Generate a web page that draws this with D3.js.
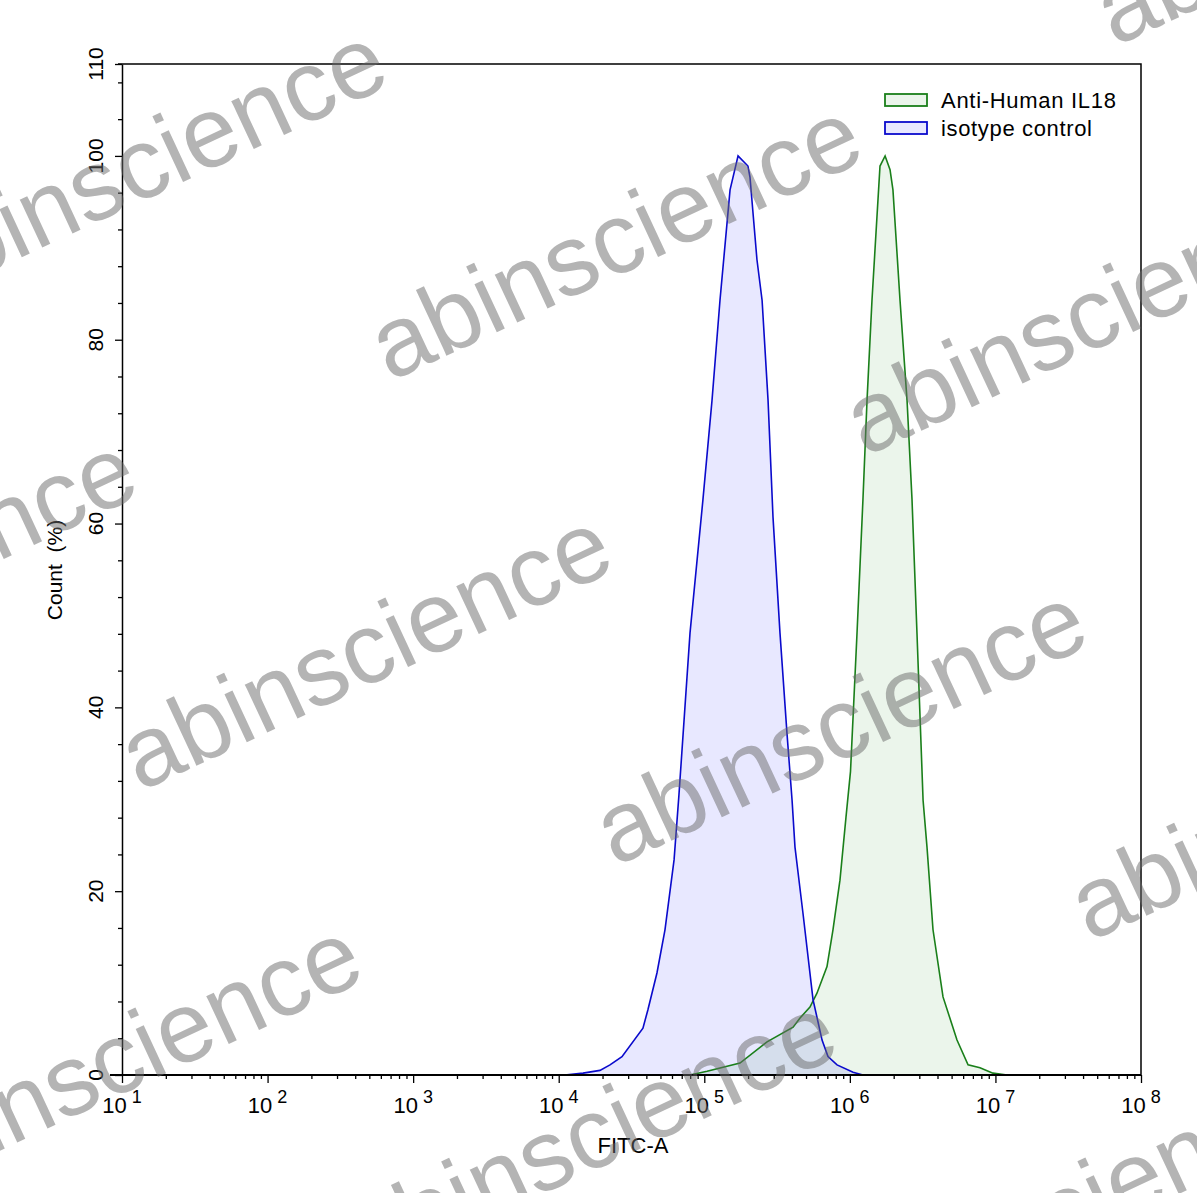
<!DOCTYPE html>
<html>
<head>
<meta charset="utf-8">
<script src="https://cdn.jsdelivr.net/npm/d3@7"></script>
<style>
  body { margin: 0; background: #fff; }
  svg text { font-family: "Liberation Sans", Arial, sans-serif; fill: #000; }
</style>
</head>
<body>
<script>
// size of the picture
var width = 1197;
var height = 1193;

// plot area edges
var plotLeft = 122, plotRight = 1141, plotTop = 64, plotBottom = 1075;

// isotype control: [FITC-A, count %]
var isotype = [
  [11000, 0], [14700, 0.2], [19200, 0.5], [22500, 1.1], [27200, 2.0],
  [37900, 5.1], [41000, 7.1], [47300, 11.1], [53700, 15.8], [62000, 23.4],
  [67000, 30.5], [79800, 48.1], [97900, 62.6], [113000, 73.4], [128200, 84.3],
  [150300, 96.3], [170600, 100], [199500, 98.9], [206000, 97.7], [230100, 88.7],
  [249500, 84.3], [274200, 73.4], [296500, 60.7], [331100, 48.1], [369800, 37.2],
  [400900, 29.9], [419800, 24.8], [476400, 17.6], [558500, 8.2], [644200, 3.8],
  [707900, 2.0], [816600, 1.1], [1052000, 0.3], [1230000, 0]
];

// Anti-Human IL18
var il18 = [
  [79800, 0], [104500, 0.4], [175900, 1.3], [269800, 3.6], [407400, 5.2],
  [454700, 6.2], [532100, 7.4], [594300, 8.9], [696600, 11.8], [765600, 15.8],
  [855100, 21.2], [940000, 28.0], [1010000, 33.0], [1120000, 48.1], [1230000, 62.6],
  [1312000, 73.4], [1419000, 84.3], [1611000, 98.9], [1746000, 100], [1888000, 98.5],
  [1977000, 96.3], [2211000, 84.3], [2471000, 73.4], [2673000, 62.6], [2891000, 48.1],
  [3184000, 29.9], [3388000, 24.8], [3726000, 15.8], [4365000, 8.5], [5445000, 3.8],
  [6486000, 1.1], [7834000, 0.8], [9616000, 0.2], [12020000, 0]
];

var xExponents = [1, 2, 3, 4, 5, 6, 7, 8];
var yMajor = [0, 20, 40, 60, 80, 100, 110];
var yMinor = d3.range(4, 110, 4).filter(function(v) { return v % 20 !== 0; });

var legendLabels = ["Anti-Human IL18", "isotype control"];

var svg = d3.select("body")
  .append("svg")
  .attr("width", width)
  .attr("height", height);

var x = d3.scaleLog()
  .domain([10, 1e8])
  .range([plotLeft, plotRight]);

var y = d3.scaleLinear()
  .domain([0, 110])
  .range([plotBottom, plotTop]);

var area = d3.area()
  .x(function(d) { return x(d[0]); })
  .y0(y(0))
  .y1(function(d) { return y(d[1]); });

var line = d3.line()
  .x(function(d) { return x(d[0]); })
  .y(function(d) { return y(d[1]); });

// histograms - green first, blue on top
svg.append("path").datum(il18)
  .attr("d", area)
  .attr("fill", "#008000").attr("fill-opacity", 0.08);
svg.append("path").datum(isotype)
  .attr("d", area)
  .attr("fill", "#0000ff").attr("fill-opacity", 0.09);
svg.append("path").datum(il18)
  .attr("d", line)
  .attr("fill", "none").attr("stroke", "#1a7f1a").attr("stroke-width", 1.6);
svg.append("path").datum(isotype)
  .attr("d", line)
  .attr("fill", "none").attr("stroke", "#0a0acc").attr("stroke-width", 1.6);

// frame, top and right
svg.append("path")
  .attr("d", "M" + (plotLeft - 4) + "," + plotTop + "H" + plotRight + "V" + plotBottom)
  .attr("fill", "none").attr("stroke", "#000").attr("stroke-width", 1.5);

// x axis
var xMinorVals = [];
xExponents.slice(0, -1).forEach(function(e) {
  for (var k = 2; k < 10; k++) xMinorVals.push(k * Math.pow(10, e));
});

var gx = svg.append("g").attr("transform", "translate(0," + plotBottom + ")");
gx.call(d3.axisBottom(x)
  .tickValues(xExponents.map(function(e) { return Math.pow(10, e); }))
  .tickSize(8).tickSizeOuter(0).tickFormat(""));
gx.append("g").call(d3.axisBottom(x)
  .tickValues(xMinorVals).tickSize(4).tickFormat(""))
  .select(".domain").remove();
gx.selectAll("line").attr("stroke-width", 1.3);
gx.select(".domain").attr("stroke-width", 2.2)
  .attr("d", "M" + (plotLeft - 12) + ",0H" + plotRight);

xExponents.forEach(function(e) {
  var t = svg.append("text")
    .attr("x", x(Math.pow(10, e)))
    .attr("y", plotBottom + 38)
    .attr("text-anchor", "middle")
    .style("font-size", "22px");
  t.append("tspan").text("10");
  t.append("tspan").attr("dx", 5).attr("dy", -10).style("font-size", "18px").text(e);
});

svg.append("text")
  .attr("x", 633).attr("y", 1153)
  .attr("text-anchor", "middle")
  .style("font-size", "22px")
  .text("FITC-A");

// y axis
var gy = svg.append("g").attr("transform", "translate(" + plotLeft + ",0)");
gy.call(d3.axisLeft(y).tickValues(yMajor).tickSize(7).tickSizeOuter(0).tickFormat(""));
gy.append("g").call(d3.axisLeft(y).tickValues(yMinor).tickSize(4).tickFormat(""))
  .select(".domain").remove();
gy.selectAll("line").attr("stroke-width", 1.3);
gy.select(".domain").attr("stroke-width", 1.5);

yMajor.forEach(function(v) {
  svg.append("text")
    .attr("transform", "translate(103," + y(v) + ") rotate(-90)")
    .attr("text-anchor", "middle")
    .style("font-size", "21px")
    .text(v);
});

svg.append("text")
  .attr("transform", "translate(62,570) rotate(-90)")
  .attr("text-anchor", "middle")
  .style("font-size", "21px")
  .style("white-space", "pre")
  .text("Count  (%)");

// legend
var legendColors = [["#1a7f1a", "#008000", 0.08], ["#0a0acc", "#0000ff", 0.09]];
legendLabels.forEach(function(label, i) {
  var ly = 94 + i * 28;
  svg.append("rect")
    .attr("x", 885).attr("y", ly).attr("width", 42).attr("height", 12)
    .attr("fill", legendColors[i][1]).attr("fill-opacity", legendColors[i][2])
    .attr("stroke", legendColors[i][0]).attr("stroke-width", 1.8);
  svg.append("text")
    .attr("x", 941).attr("y", ly + 14)
    .style("font-size", "22px")
    .attr("textLength", i === 0 ? 175 : 151)
    .text(label);
});

// watermark lattice
var wmBase = [390, 382], wmA = [475, 75], wmB = [-250, 410];
var wm = svg.append("g").attr("pointer-events", "none");
for (var i = -2; i <= 2; i++) {
  for (var j = -2; j <= 2; j++) {
    var px = wmBase[0] + i * wmA[0] + j * wmB[0];
    var py = wmBase[1] + i * wmA[1] + j * wmB[1];
    if (px < -600 || px > width + 50 || py < -50 || py > height + 300) continue;
    wm.append("text")
      .attr("transform", "translate(" + px + "," + py + ") rotate(-25)")
      .style("font-size", "100px")
      .style("fill", "#6a6a6a")
      .style("fill-opacity", 0.5)
      .text("abinscience");
  }
}
</script>
</body>
</html>
